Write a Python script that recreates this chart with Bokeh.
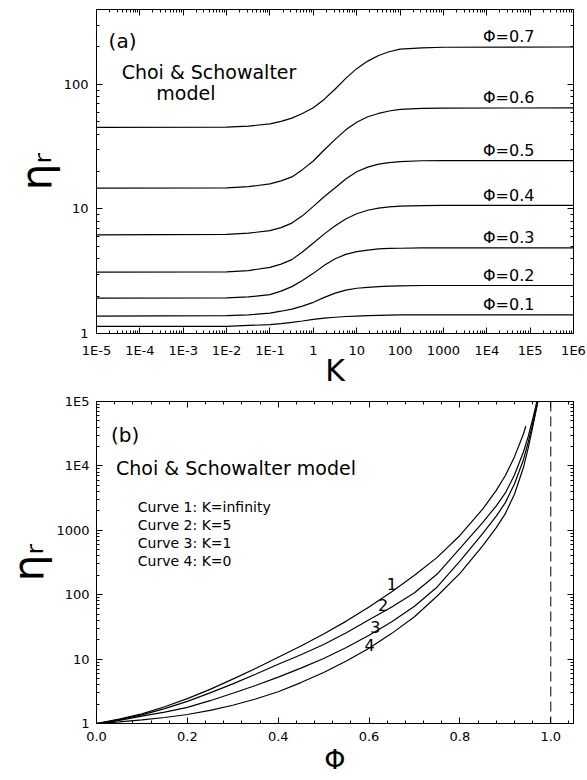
import numpy as np
from bokeh.plotting import figure
from bokeh.layouts import column
from bokeh.models import (Range1d, LogAxis, LinearAxis, FixedTicker,
                          CustomJSTickFormatter, Label, Span)
from bokeh.embed import file_html
from bokeh.resources import INLINE

FONT = "DejaVu Sans"

# ---------------- panel (a): eta_r vs K ----------------
K_vals = [1e-5, 1e-2, 0.032, 0.1, 0.18, 0.32, 0.56, 1, 1.8, 3.2, 5.6, 10, 18, 32,
          56, 100, 320, 1000, 1e6]
eta_phi07 = [45.3, 45.5, 46.3, 48.3, 50.6, 53.7, 58.5, 65.0, 76.2, 92.0, 112, 134,
             154, 171, 183, 192, 197, 199, 200]
eta_phi06 = [14.7, 14.8, 15.1, 15.9, 16.8, 18.1, 20.7, 24.3, 29.9, 36.2, 43.2, 49.8,
             55.0, 58.5, 61.2, 63.0, 64.3, 64.6, 64.8]
eta_phi05 = [6.2, 6.25, 6.4, 6.7, 7.08, 7.7, 8.81, 10.5, 12.6, 14.8, 17.4, 19.9,
             21.7, 22.9, 23.6, 24.0, 24.4, 24.5, 24.5]
eta_phi04 = [3.11, 3.12, 3.20, 3.40, 3.61, 3.92, 4.52, 5.33, 6.31, 7.33, 8.32, 9.15,
             9.77, 10.15, 10.4, 10.55, 10.65, 10.7, 10.7]
eta_phi03 = [1.92, 1.93, 1.97, 2.05, 2.19, 2.38, 2.66, 3.04, 3.53, 3.98, 4.32, 4.54,
             4.68, 4.78, 4.82, 4.84, 4.87, 4.88, 4.88]
eta_phi02 = [1.38, 1.39, 1.41, 1.46, 1.51, 1.57, 1.66, 1.78, 1.95, 2.11, 2.23, 2.31,
             2.35, 2.38, 2.40, 2.41, 2.43, 2.43, 2.43]
eta_phi01 = [1.14, 1.14, 1.16, 1.18, 1.20, 1.23, 1.26, 1.30, 1.33, 1.35, 1.37, 1.38,
             1.39, 1.40, 1.405, 1.41, 1.41, 1.41, 1.41]
series_a = [eta_phi07, eta_phi06, eta_phi05, eta_phi04, eta_phi03, eta_phi02, eta_phi01]
phi_names_a = ["Φ=0.7", "Φ=0.6", "Φ=0.5", "Φ=0.4", "Φ=0.3", "Φ=0.2", "Φ=0.1"]

xa_ticks = [1e-5, 1e-4, 1e-3, 1e-2, 1e-1, 1, 10, 100, 1000, 1e4, 1e5, 1e6]
xa_labels = ["1E-5", "1E-4", "1E-3", "1E-2", "1E-1", "1", "10", "100", "1000", "1E4", "1E5", "1E6"]
ya_ticks = [1, 10, 100]
ya_labels = ["1", "10", "100"]

# ---------------- panel (b): eta_r vs phi ----------------
phi_c1 = [0, .05, .1, .15, .2, .25, .3, .35, .4, .45, .5, .55, .6, .65, .7, .75,
          .8, .85, .88, .9, .92, .94, .945]
eta_c1 = [1.0, 1.17, 1.41, 1.82, 2.43, 3.39, 4.88, 7.16, 10.7, 16.0, 24.5, 38.9,
          64.6, 111, 200, 380, 832, 2140, 4170, 7080, 13800, 31600, 41700]
phi_grid = [0, .05, .1, .15, .2, .25, .3, .35, .4, .45, .5, .55, .6, .65, .7, .75,
            .8, .85, .88, .9, .92, .94, .95, .96, .97, .98]
eta_c2 = [1.0, 1.15, 1.36, 1.70, 2.21, 2.99, 4.12, 5.82, 8.32, 11.7, 16.9, 25.7,
          40.7, 64.6, 107, 209, 525, 1320, 2400, 3800, 7240, 16600, 28200, 52500,
          105000, 224000]
eta_c3 = [1.0, 1.12, 1.30, 1.50, 1.78, 2.26, 2.95, 3.89, 5.25, 7.24, 10.2, 15.1,
          23.4, 38.0, 66.1, 132, 331, 891, 1660, 2690, 5250, 12600, 22900, 44700,
          91200, 200000]
eta_c4 = [1.0, 1.06, 1.14, 1.24, 1.38, 1.60, 1.92, 2.40, 3.11, 4.32, 6.21, 9.33,
          14.7, 25.1, 45.4, 95.5, 214, 575, 1100, 1820, 3630, 9550, 18600, 39800,
          87100, 200000]
curve_ids = ["1", "2", "3", "4"]
legend_lines = ["Curve 1: K=infinity", "Curve 2: K=5", "Curve 3: K=1", "Curve 4: K=0"]
phi_max = 1.0

xb_ticks = [0.0, 0.2, 0.4, 0.6, 0.8, 1.0]
xb_labels = ["0.0", "0.2", "0.4", "0.6", "0.8", "1.0"]
yb_ticks = [1, 10, 100, 1000, 1e4, 1e5]
yb_labels = ["1", "10", "100", "1000", "1E4", "1E5"]

LOG_CODE = """
const t = Math.log10(tick);
let best = 0, bd = 1e9;
for (let i = 0; i < vals.length; i++) {
  const d = Math.abs(Math.log10(vals[i]) - t);
  if (d < bd) { bd = d; best = i; }
}
return bd < 0.01 ? labs[best] : "";
"""
LIN_CODE = """
let best = 0, bd = 1e9;
for (let i = 0; i < vals.length; i++) {
  const d = Math.abs(vals[i] - tick);
  if (d < bd) { bd = d; best = i; }
}
return bd < 1e-6 ? labs[best] : "";
"""
BLANK = "return '';"


def log_minor(lo_exp, hi_exp, top=None):
    out = []
    for e in range(lo_exp, hi_exp):
        for m in range(2, 10):
            v = m * 10.0 ** e
            if top is None or v <= top:
                out.append(v)
    return out


def style_axis(ax, size="13px"):
    ax.axis_line_color = "black"
    ax.axis_line_width = 1
    ax.major_tick_in = 6
    ax.major_tick_out = 0
    ax.minor_tick_in = 3
    ax.minor_tick_out = 0
    ax.major_tick_line_color = "black"
    ax.minor_tick_line_color = "black"
    ax.major_label_text_font = FONT
    ax.major_label_text_font_size = size
    ax.major_label_text_color = "black"
    ax.axis_label_text_font = FONT
    ax.axis_label_text_font_style = "normal"
    ax.axis_label_text_color = "black"


def mirror(ax):
    style_axis(ax, size="0px")
    ax.major_label_standoff = 0
    return ax


def txt(x, y, s, size, align="left"):
    return Label(x=x, y=y, text=s, text_font=FONT, text_font_size=size,
                 text_align=align, text_baseline="middle", text_color="black")


# ================= figure (a) =================
p1 = figure(width=587, height=393, x_axis_type="log", y_axis_type="log",
            x_range=Range1d(1e-5, 1e6), y_range=Range1d(1, 400),
            output_backend="svg", toolbar_location=None,
            min_border_left=96, min_border_right=10, min_border_top=9,
            min_border_bottom=60)
p1.xgrid.visible = False
p1.ygrid.visible = False
p1.outline_line_color = "black"
p1.background_fill_color = "white"
p1.border_fill_color = "white"

xa_ticker = FixedTicker(ticks=xa_ticks, minor_ticks=log_minor(-5, 6))
ya_ticker = FixedTicker(ticks=ya_ticks, minor_ticks=log_minor(0, 3, top=400))

xa = p1.xaxis[0]
xa.ticker = xa_ticker
xa.formatter = CustomJSTickFormatter(args=dict(vals=xa_ticks, labs=xa_labels), code=LOG_CODE)
style_axis(xa)
xa.major_label_standoff = 9
xa.axis_label = "K"
xa.axis_label_text_font_size = "30px"
xa.axis_label_standoff = -8

ya = p1.yaxis[0]
ya.ticker = ya_ticker
ya.formatter = CustomJSTickFormatter(args=dict(vals=ya_ticks, labs=ya_labels), code=LOG_CODE)
style_axis(ya)
ya.major_label_standoff = 8
ya.axis_label = "ηᵣ"
ya.axis_label_text_font_size = "42px"
ya.axis_label_standoff = 0

p1.add_layout(mirror(LogAxis(ticker=xa_ticker, formatter=CustomJSTickFormatter(code=BLANK))), "above")
p1.add_layout(mirror(LogAxis(ticker=ya_ticker, formatter=CustomJSTickFormatter(code=BLANK))), "right")

for vals, name in zip(series_a, phi_names_a):
    p1.line(K_vals, vals, line_color="black", line_width=1.2)
    p1.add_layout(txt(3.2e4, vals[-1] * 1.21, name, "16px", align="center"))

p1.add_layout(txt(1.9e-5, 225, "(a)", "20px"))
p1.add_layout(txt(3.8e-5, 127, "Choi & Schowalter", "19px"))
p1.add_layout(txt(2.4e-4, 86, "model", "19px"))

# ================= figure (b) =================
p2 = figure(width=587, height=387, y_axis_type="log",
            x_range=Range1d(0, 1.05), y_range=Range1d(1, 1e5),
            output_backend="svg", toolbar_location=None,
            min_border_left=93, min_border_right=14, min_border_top=8,
            min_border_bottom=57)
p2.xgrid.visible = False
p2.ygrid.visible = False
p2.outline_line_color = "black"
p2.background_fill_color = "white"
p2.border_fill_color = "white"

xb_ticker = FixedTicker(ticks=xb_ticks, minor_ticks=[round(i * 0.04, 2) for i in range(27)])
yb_ticker = FixedTicker(ticks=yb_ticks, minor_ticks=log_minor(0, 5))

xb = p2.xaxis[0]
xb.ticker = xb_ticker
xb.formatter = CustomJSTickFormatter(args=dict(vals=xb_ticks, labs=xb_labels), code=LIN_CODE)
style_axis(xb)
xb.major_label_standoff = 8
xb.axis_label = "Φ"
xb.axis_label_text_font_size = "27px"
xb.axis_label_standoff = 0

yb = p2.yaxis[0]
yb.ticker = yb_ticker
yb.formatter = CustomJSTickFormatter(args=dict(vals=yb_ticks, labs=yb_labels), code=LOG_CODE)
style_axis(yb)
yb.major_label_standoff = 7
yb.axis_label = "ηᵣ"
yb.axis_label_text_font_size = "42px"
yb.axis_label_standoff = 0

p2.add_layout(mirror(LinearAxis(ticker=xb_ticker, formatter=CustomJSTickFormatter(code=BLANK))), "above")
p2.add_layout(mirror(LogAxis(ticker=yb_ticker, formatter=CustomJSTickFormatter(code=BLANK))), "right")

p2.line(phi_c1, eta_c1, line_color="black", line_width=1.2)
for vals in (eta_c2, eta_c3, eta_c4):
    p2.line(phi_grid, vals, line_color="black", line_width=1.2)

p2.add_layout(Span(location=phi_max, dimension="height", line_color="black",
                   line_width=1, line_dash="10 5"))

label_pos = [(0.65, 149), (0.631, 68), (0.614, 31), (0.601, 16.3)]
for cid, (lx, ly) in zip(curve_ids, label_pos):
    p2.add_layout(txt(lx, ly, cid, "16px", align="center"))

p2.add_layout(txt(0.032, 29700, "(b)", "20px"))
p2.add_layout(txt(0.043, 9440, "Choi & Schowalter model", "19px"))
for s, ly in zip(legend_lines, [2260, 1190, 624, 328]):
    p2.add_layout(txt(0.091, ly, s, "14px"))

layout = column(p1, p2)
open("out.html", "w").write(file_html(layout, INLINE))
